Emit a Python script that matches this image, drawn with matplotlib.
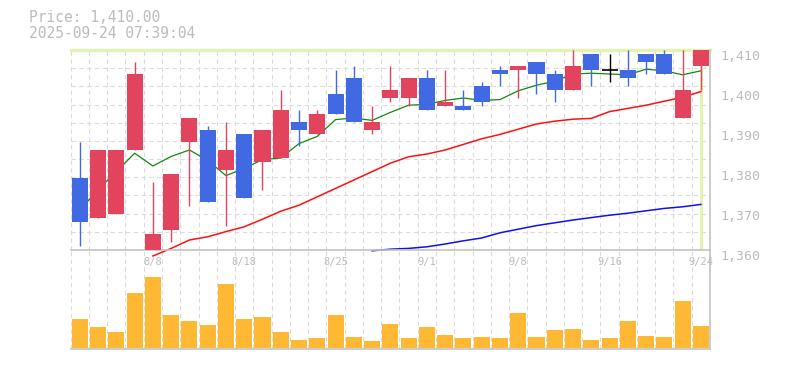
import matplotlib
matplotlib.use('Agg')
import matplotlib.pyplot as plt
import matplotlib.transforms as mtransforms
import numpy as np

# daily candles (8/4 - 9/24)
dates = ['8/4', '8/5', '8/6', '8/7', '8/8', '8/12', '8/13', '8/14', '8/15',
         '8/18', '8/19', '8/20', '8/21', '8/22', '8/25', '8/26', '8/27', '8/28',
         '8/29', '9/1', '9/2', '9/3', '9/4', '9/5', '9/8', '9/9', '9/10', '9/11',
         '9/12', '9/16', '9/17', '9/18', '9/19', '9/22', '9/24']
opens = [1378, 1368, 1369, 1385, 1360, 1365, 1387, 1390, 1380, 1389, 1382, 1383,
         1392, 1389, 1399, 1403, 1390, 1398, 1398, 1403, 1396, 1396, 1401, 1405,
         1405, 1407, 1404, 1400, 1409, 1405, 1405, 1409, 1409, 1393, 1406]
highs = [1387, 1385, 1385, 1407, 1377, 1379, 1393, 1391, 1392, 1389, 1390, 1400,
         1395, 1395, 1405, 1406, 1396, 1406, 1403, 1405, 1405, 1400, 1402, 1406,
         1406, 1407, 1405, 1410, 1409, 1409, 1410, 1409, 1410, 1410, 1410]
lows = [1361, 1368, 1369, 1385, 1360, 1362, 1371, 1372, 1366, 1373, 1375, 1383,
        1386, 1389, 1394, 1392, 1389, 1397, 1396, 1395, 1396, 1395, 1396, 1401,
        1398, 1399, 1397, 1400, 1401, 1402, 1401, 1404, 1404, 1393, 1400]
closes = [1367, 1385, 1385, 1404, 1364, 1379, 1393, 1372, 1385, 1373, 1390, 1395,
          1390, 1394, 1394, 1392, 1392, 1400, 1403, 1395, 1397, 1395, 1397, 1404,
          1406, 1404, 1400, 1406, 1405, 1405, 1403, 1407, 1404, 1400, 1410]
volumes = [28700, 20800, 15600, 54800, 70600, 32800, 26500, 22600, 63900, 28600,
           30900, 15800, 7700, 9600, 32700, 10800, 6600, 23800, 9700, 20600,
           12800, 9600, 10900, 9800, 34600, 10700, 17600, 18800, 7600, 9700,
           26800, 11600, 10800, 46900, 21500]

nan = np.nan
ma5 = [1370.0, 1375.1, 1379.6, 1384.2, 1381.0, 1383.4, 1385.0, 1382.4, 1378.6,
       1380.4, 1382.6, 1383.0, 1386.6, 1388.4, 1392.6, 1393.0, 1392.4, 1394.4,
       1396.2, 1396.4, 1397.4, 1398.0, 1397.4, 1397.6, 1399.8, 1401.2, 1402.2,
       1404.0, 1404.2, 1404.0, 1403.8, 1405.2, 1404.8, 1403.8, 1404.8]
ma25 = [nan, nan, nan, nan, 1358.5, 1360.4, 1362.5, 1363.3, 1364.6, 1365.8,
        1367.7, 1369.7, 1371.2, 1373.3, 1375.4, 1377.5, 1379.6, 1381.7, 1383.3,
        1384.0, 1385.0, 1386.4, 1387.8, 1388.9, 1390.2, 1391.5, 1392.2, 1392.7,
        1392.9, 1394.6, 1395.4, 1396.2, 1397.2, 1398.2, 1399.6]
ma75 = [nan] * 16 + [1359.8, 1360.2, 1360.4, 1360.8, 1361.5, 1362.3, 1363.0,
                     1364.3, 1365.2, 1366.1, 1366.8, 1367.5, 1368.1, 1368.7,
                     1369.2, 1369.8, 1370.4, 1370.8, 1371.4]

date_labels = ['8/8', '8/18', '8/25', '9/1', '9/8', '9/16', '9/24']
price_ticks = [1360, 1370, 1380, 1390, 1400, 1410]
header = ['Price: 1,410.00', '2025-09-24 07:39:04']

UP = '#e2445e'
DOWN = '#4169e1'
GRID = '#dcdcdc'
FRAME = '#c4c4c4'
TXT = '#bcbcbc'
MONO = 'DejaVu Sans Mono'

fig = plt.figure(figsize=(7.85, 3.7), dpi=100)
axv = fig.add_axes([70.7 / 785, 1 - 349.3 / 370, 639.3 / 785, 99.3 / 370])
ax = fig.add_axes([70.7 / 785, 1 - 250 / 370, 639.3 / 785, 200 / 370])
ax.patch.set_visible(False)

n = len(dates)
x = np.arange(n)
o = np.array(opens); c = np.array(closes)
h = np.array(highs); l = np.array(lows)
ylo, yhi = min(lows), max(highs)

for a in (ax, axv):
    a.set_xlim(-0.5, n - 0.5)
    a.set_xticks([]); a.set_yticks([])
    for s in ('top', 'left'):
        a.spines[s].set_visible(False)
    for s in ('bottom', 'right'):
        a.spines[s].set_color(FRAME)
        a.spines[s].set_linewidth(1.2)
    # vertical grid between candles
    for i in range(n):
        a.axvline(i - 0.5, color=GRID, lw=0.8, ls=(0, (4, 3)), zorder=0)

ax.set_ylim(ylo, yhi)
for g in np.linspace(ylo, yhi, 12)[1:-1]:
    ax.axhline(g, color=GRID, lw=0.8, ls=(0, (4, 3)), zorder=0)

# crosshair at the last price
ax.axhline(closes[-1], color='#e3f3b0', lw=2.4, zorder=1, clip_on=False)
ax.axvline(x[-1], ymin=0.01, ymax=1, color='#e3f3b0', lw=2.2, zorder=1)

# moving averages
ax.plot(x, ma5, color='#118811', lw=0.9, zorder=2)
ax.plot(x, ma25, color='#ff1010', lw=1.1, zorder=2, clip_on=False)
ax.plot(x, ma75, color='#1010ee', lw=1.1, zorder=2, clip_on=False)

# candles
up = c > o
down = c < o
flat = c == o
cols = np.where(up, UP, DOWN)
cols = np.where(flat, 'black', cols)
ax.vlines(x, l, h, colors=cols, lw=1.0, zorder=3)
ax.bar(x[up | down], np.abs(c - o)[up | down], bottom=np.minimum(o, c)[up | down],
       width=0.88, color=cols[up | down], zorder=4)
ax.hlines(c[flat], x[flat] - 0.44, x[flat] + 0.44, colors='black', lw=1.2, zorder=4)

# volume
vmax = max(volumes)
axv.set_ylim(-0.023 * vmax, 1.38 * vmax)
axv.bar(x, volumes, width=0.88, color='#ffb833', zorder=2)

# price labels on the right
tr = mtransforms.blended_transform_factory(fig.transFigure, ax.transData)
for p in price_ticks:
    fig.text(720 / 785, p, f'{p:,}', transform=tr, ha='left', va='top',
             fontsize=9.5, family=MONO, color=TXT)

# date labels
trx = mtransforms.blended_transform_factory(ax.transData, ax.transAxes)
for d in date_labels:
    ax.text(dates.index(d), -0.06, d, transform=trx, ha='center', va='center',
            fontsize=7.5, family=MONO, color=TXT, clip_on=False, zorder=5)

fig.text(29 / 785, 1 - 18 / 370, header[0], ha='left', va='center',
         fontsize=10.5, family=MONO, color=TXT)
fig.text(29 / 785, 1 - 33.5 / 370, header[1], ha='left', va='center',
         fontsize=10.5, family=MONO, color=TXT)

fig.savefig('out.png', dpi=100)
